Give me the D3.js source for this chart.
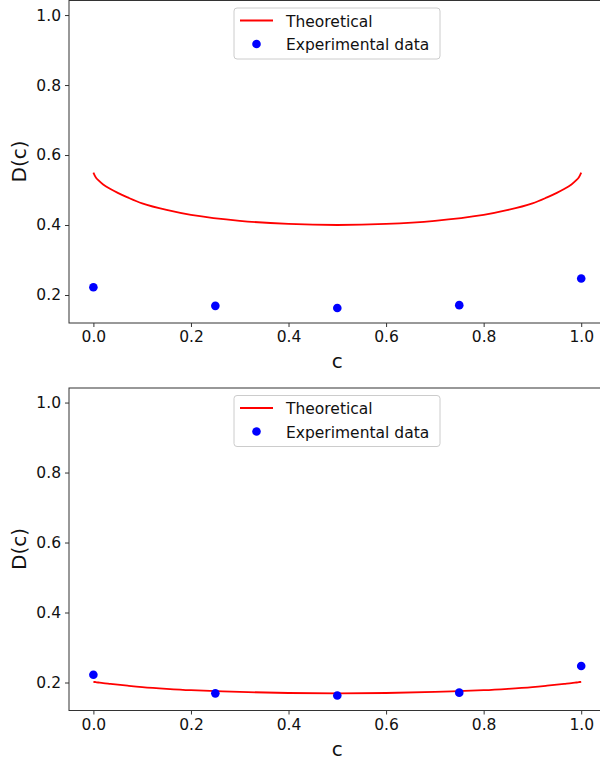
<!DOCTYPE html>
<html>
<head>
<meta charset="utf-8">
<script src="https://cdn.jsdelivr.net/npm/d3@7/dist/d3.min.js"></script>
<style>
  html, body { margin: 0; padding: 0; background: #fff; overflow: hidden; }
  svg { display: block; font-family: "DejaVu Sans", sans-serif; }
</style>
</head>
<body>
<script>
// Composition values where samples were measured
const sampleC = [0, 0.25, 0.5, 0.75, 1.0];
// Measured D(c) at each composition (same in both panels)
const experimental = [0.222, 0.169, 0.163, 0.171, 0.247];

// Theoretical curve, sampled along c
const theoryC = [0, 0.005, 0.01, 0.02, 0.035, 0.05, 0.07, 0.1, 0.15, 0.2, 0.3, 0.4, 0.5,
                 0.6, 0.7, 0.8, 0.85, 0.9, 0.93, 0.95, 0.965, 0.98, 0.99, 0.995, 1.0];
// Upper panel: original model
const theoryTop = [0.550, 0.536, 0.528, 0.516, 0.503, 0.492, 0.479, 0.462, 0.443, 0.429, 0.412, 0.403, 0.400,
                   0.403, 0.412, 0.429, 0.443, 0.462, 0.479, 0.492, 0.503, 0.516, 0.528, 0.536, 0.550];
// Lower panel: fitted model
const theoryBottom = [0.202, 0.201, 0.200, 0.198, 0.196, 0.194, 0.191, 0.187, 0.182, 0.178, 0.173, 0.170, 0.169,
                      0.170, 0.173, 0.178, 0.182, 0.187, 0.191, 0.194, 0.196, 0.198, 0.200, 0.201, 0.202];

const xTicks = [0.0, 0.2, 0.4, 0.6, 0.8, 1.0];
const yTicks = [0.2, 0.4, 0.6, 0.8, 1.0];
const legendLabels = ["Theoretical", "Experimental data"];

const W = 600, H = 759;
const svg = d3.select("body").append("svg").attr("width", W).attr("height", H);

const x = d3.scaleLinear().domain([-0.05, 1.05]).range([69, 605.6]);
const yDomain = [0.12, 1.043];

const panels = [
  { top: 0, bottom: 323, theory: theoryTop },
  { top: 387.5, bottom: 710.5, theory: theoryBottom }
];

const axisColor = "#333";

panels.forEach(p => {
  const y = d3.scaleLinear().domain(yDomain).range([p.bottom, p.top]);
  const g = svg.append("g");

  // clip to axes area
  const clipId = "clip" + Math.round(p.top);
  g.append("clipPath").attr("id", clipId)
    .append("rect").attr("x", x.range()[0]).attr("y", p.top)
    .attr("width", x.range()[1] - x.range()[0]).attr("height", p.bottom - p.top);

  const plot = g.append("g").attr("clip-path", `url(#${clipId})`);

  // theoretical line
  const line = d3.line()
    .x((d, i) => x(theoryC[i]))
    .y(d => y(d))
    .curve(d3.curveCatmullRom.alpha(0.5));
  plot.append("path")
    .datum(p.theory)
    .attr("d", line)
    .attr("fill", "none")
    .attr("stroke", "#ff0000")
    .attr("stroke-width", 1.8);

  // experimental points
  plot.selectAll("circle.pt")
    .data(experimental)
    .join("circle")
    .attr("class", "pt")
    .attr("cx", (d, i) => x(sampleC[i]))
    .attr("cy", d => y(d))
    .attr("r", 4.3)
    .attr("fill", "#0000ff");

  // axes
  const xAxis = d3.axisBottom(x).tickValues(xTicks).tickFormat(d3.format(".1f")).tickSize(4).tickPadding(4);
  const yAxis = d3.axisLeft(y).tickValues(yTicks).tickFormat(d3.format(".1f")).tickSize(4).tickPadding(4);

  const gx = g.append("g").attr("transform", `translate(0,${p.bottom})`).call(xAxis);
  const gy = g.append("g").attr("transform", `translate(${x.range()[0]},0)`).call(yAxis);
  [gx, gy].forEach(a => {
    a.select(".domain").remove();
    a.selectAll(".tick line").attr("stroke", axisColor).attr("stroke-width", 1);
    a.selectAll(".tick text").attr("fill", "#111").style("font-size", "15.5px").style("font-family", "DejaVu Sans");
  });

  // spines
  g.append("rect")
    .attr("x", x.range()[0]).attr("y", p.top + 0.5)
    .attr("width", x.range()[1] - x.range()[0]).attr("height", p.bottom - p.top - 0.5)
    .attr("fill", "none").attr("stroke", axisColor).attr("stroke-width", 1);

  // axis labels
  g.append("text")
    .attr("x", (x.range()[0] + x.range()[1]) / 2)
    .attr("y", p.bottom + 45)
    .attr("text-anchor", "middle")
    .style("font-size", "20px")
    .attr("fill", "#111")
    .text("c");
  g.append("text")
    .attr("transform", `translate(26,${(p.top + p.bottom) / 2}) rotate(-90)`)
    .attr("text-anchor", "middle")
    .style("font-size", "20px")
    .attr("fill", "#111")
    .text("D(c)");

  // legend
  const lg = g.append("g").attr("transform", `translate(234,${p.top + 8})`);
  lg.append("rect").attr("x", 0).attr("y", 0).attr("width", 206).attr("height", 51)
    .attr("rx", 3).attr("fill", "#fff").attr("fill-opacity", 0.8)
    .attr("stroke", "#ccc").attr("stroke-width", 1);
  lg.append("line").attr("x1", 6).attr("x2", 39).attr("y1", 12.5).attr("y2", 12.5)
    .attr("stroke", "#ff0000").attr("stroke-width", 1.8);
  lg.append("circle").attr("cx", 22.5).attr("cy", 36).attr("r", 4.3).attr("fill", "#0000ff");
  lg.selectAll("text.lab").data(legendLabels).join("text")
    .attr("class", "lab")
    .attr("x", 52)
    .attr("y", (d, i) => 18.5 + i * 23.5)
    .style("font-size", "15.5px")
    .attr("fill", "#111")
    .text(d => d);
});
</script>
</body>
</html>
